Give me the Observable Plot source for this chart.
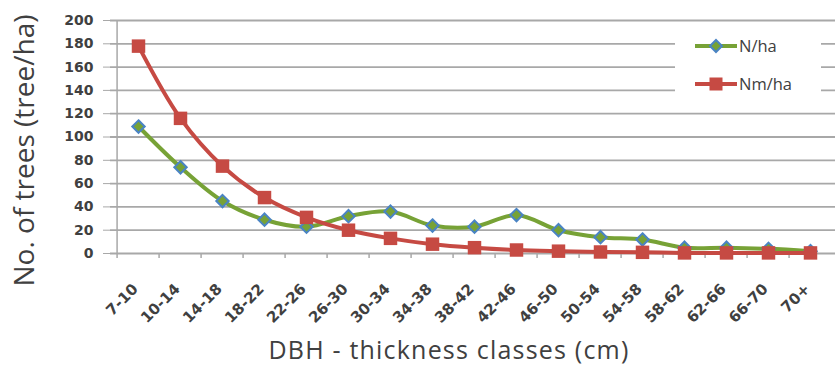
<!DOCTYPE html>
<html>
<head>
<meta charset="utf-8">
<script src="https://cdn.jsdelivr.net/npm/d3@7"></script>
<script src="https://cdn.jsdelivr.net/npm/@observablehq/plot@0.6"></script>
<style>
  html, body { margin: 0; padding: 0; background: #fff; }
  #wrap { position: relative; width: 835px; height: 365px; overflow: hidden; }
  #legend { position: absolute; left: 675px; top: 29px; width: 146px; height: 70px; background: #fff; font-family: "Open Sans", sans-serif; font-size: 16.5px; color: #404040; }
  .item { position: absolute; left: 20px; display: flex; align-items: center; }
  .item svg { display: block; }
  .item span { margin-left: 1px; }
</style>
</head>
<body>
<div id="wrap">
  <div id="chart"></div>
  <div id="legend"></div>
</div>
<script>
const categories = ["7-10","10-14","14-18","18-22","22-26","26-30","30-34","34-38","38-42","42-46","46-50","50-54","54-58","58-62","62-66","66-70","70+"];
const nHa  = [109, 74, 45, 29, 23, 32, 36, 24, 23, 33, 20, 14, 12, 5, 5, 4, 2];
const nmHa = [178, 116, 75, 48, 31, 20, 13, 8, 5, 3, 2, 1.3, 1, 0.5, 0.5, 0.5, 0.5];
const yTicks = [0, 20, 40, 60, 80, 100, 120, 140, 160, 180, 200];
const seriesNames = ["N/ha", "Nm/ha"];

const greenCol = "#77a236";
const redCol = "#c64a43";
const blueCol = "#4a84c4";
const gridCol = "#a8a8a8";
const textCol = "#404040";

const rowsN = categories.map((c, i) => ({cat: c, v: nHa[i]}));
const rowsNm = categories.map((c, i) => ({cat: c, v: nmHa[i]}));

const xLeft = 110, xRight = 838;
const bw = (xRight - xLeft) / categories.length;

const chart = Plot.plot({
  width: 835,
  height: 365,
  marginLeft: 110,
  marginRight: 0,
  marginTop: 20,
  marginBottom: 112,
  style: {fontFamily: "DejaVu Sans, sans-serif", color: textCol, background: "#fff"},
  x: {type: "point", domain: categories, range: [xLeft, xRight], padding: 0.5},
  y: {domain: [0, 200], range: [253, 20]},
  marks: [
    Plot.ruleY(yTicks, {stroke: gridCol, strokeWidth: 1.8}),
    Plot.ruleX([categories[0]], {y1: 0, y2: 200, dx: -bw / 2, stroke: gridCol, strokeWidth: 1.5}),
    Plot.ruleX(categories, {y1: 0, y2: 0, insetBottom: -5, dx: -bw / 2, stroke: gridCol, strokeWidth: 1.5}),
    Plot.axisY({ticks: yTicks, tickSize: 7, tickPadding: 10, stroke: gridCol, fontSize: 14, fontWeight: "bold", fill: textCol, label: null}),
    Plot.axisX({tickSize: 0, tickRotate: -45, tickPadding: 33, fontSize: 15, fontWeight: "bold", fill: textCol, dx: -3, label: null}),
    Plot.line(rowsN, {x: "cat", y: "v", stroke: greenCol, strokeWidth: 4, curve: "catmull-rom"}),
    Plot.dot(rowsN, {x: "cat", y: "v", symbol: "diamond2", r: 5.6, fill: greenCol, stroke: blueCol, strokeWidth: 2}),
    Plot.line(rowsNm, {x: "cat", y: "v", stroke: redCol, strokeWidth: 4, curve: "catmull-rom"}),
    Plot.dot(rowsNm, {x: "cat", y: "v", symbol: "square", r: 7.6, fill: redCol, stroke: "none"}),
    Plot.text(["No. of trees (tree/ha)"], {frameAnchor: "left", textAnchor: "middle", lineAnchor: "middle", rotate: -90, dx: -85, dy: 13.5, fontSize: 28, fontFamily: "Open Sans", fill: textCol}),
    Plot.text(["DBH - thickness classes (cm)"], {frameAnchor: "bottom", textAnchor: "middle", lineAnchor: "middle", dx: -24, dy: 97, fontSize: 25, fontFamily: "Open Sans", fill: textCol, className: "xtitle"})
  ]
});
d3.select(chart).selectAll(".xtitle text").attr("letter-spacing", 1.2);
document.getElementById("chart").appendChild(chart);

// Legend
const legend = document.getElementById("legend");
const specs = [
  {name: seriesNames[0], top: 5, sw: `<line x1="0" y1="8" x2="42" y2="8" stroke="${greenCol}" stroke-width="4"/><path d="M21,2 L27,8 L21,14 L15,8 Z" fill="${greenCol}" stroke="${blueCol}" stroke-width="2"/>`},
  {name: seriesNames[1], top: 43, sw: `<line x1="0" y1="8" x2="42" y2="8" stroke="${redCol}" stroke-width="4"/><rect x="14.5" y="1.5" width="13" height="13" fill="${redCol}"/>`}
];
for (const s of specs) {
  const d = document.createElement("div");
  d.className = "item";
  d.style.top = s.top + "px";
  d.innerHTML = `<svg width="43" height="16">${s.sw}</svg><span>${s.name}</span>`;
  legend.appendChild(d);
}
</script>
</body>
</html>
